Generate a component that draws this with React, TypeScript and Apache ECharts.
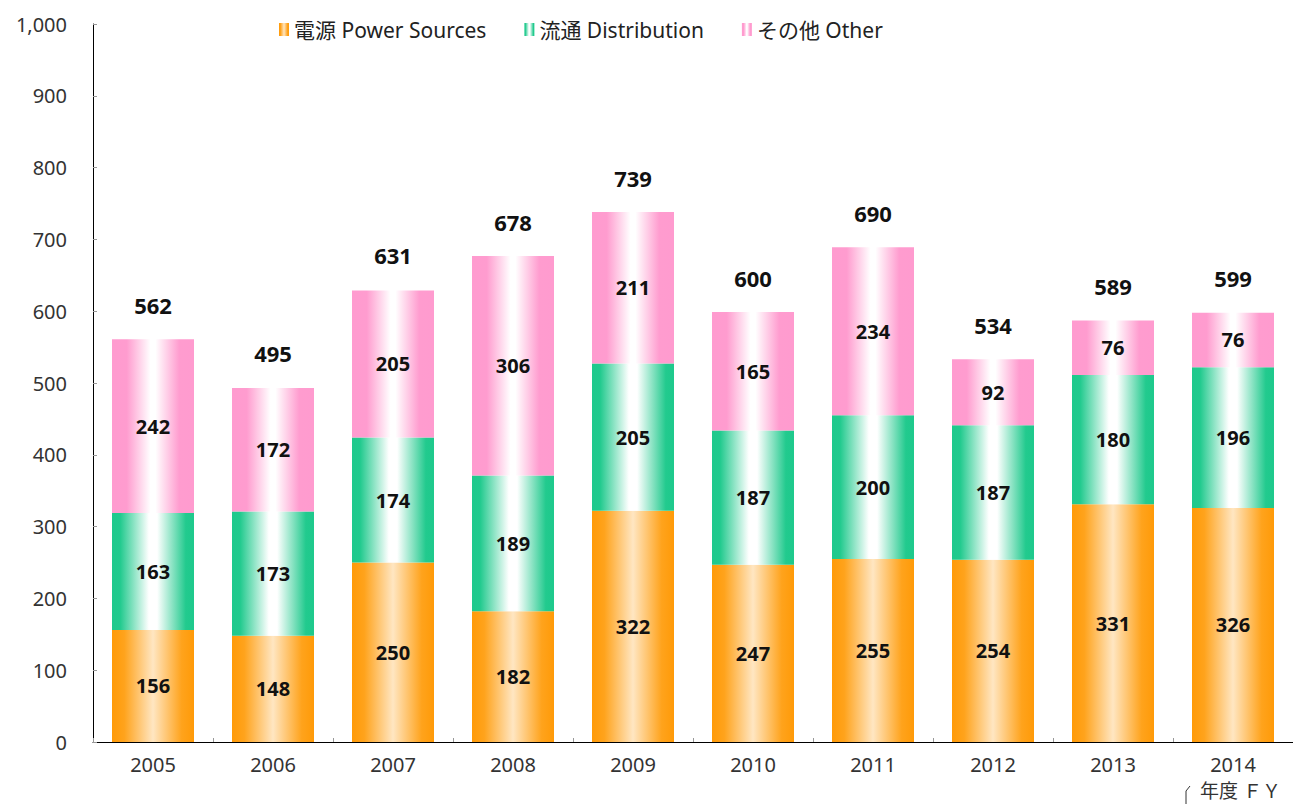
import React, { useEffect, useRef } from "react";
import * as echarts from "echarts";

const years = ["2005", "2006", "2007", "2008", "2009", "2010", "2011", "2012", "2013", "2014"];
const power = [156, 148, 250, 182, 322, 247, 255, 254, 331, 326];
const distribution = [163, 173, 174, 189, 205, 187, 200, 187, 180, 196];
const other = [242, 172, 205, 306, 211, 165, 234, 92, 76, 76];
const totals = [562, 495, 631, 678, 739, 600, 690, 534, 589, 599];

const FONT = "'Noto Sans', 'Noto Sans CJK JP', sans-serif";

function grad(stops: [number, string][]) {
  return new echarts.graphic.LinearGradient(
    0,
    0,
    1,
    0,
    stops.map(([offset, color]) => ({ offset, color }))
  );
}

export default function App() {
  const ref = useRef<HTMLDivElement>(null);
  useEffect(() => {
    if (!ref.current) return;
    const chart = echarts.init(ref.current, undefined, { renderer: "svg" });
    const labelStyle = {
      show: true,
      position: "inside" as const,
      color: "#111",
      fontSize: 20,
      fontWeight: "bold" as const,
      fontFamily: FONT,
    };
    chart.setOption({
      animation: false,
      backgroundColor: "#fff",
      grid: { left: 93, right: 0, top: 24, bottom: 62 },
      legend: {
        left: 274,
        top: 14,
        itemWidth: 10,
        itemHeight: 13,
        itemGap: 38,
        icon: "rect",
        textStyle: { fontSize: 21, color: "#222", fontFamily: FONT },
        data: ["電源 Power Sources", "流通 Distribution", "その他 Other"],
      },
      xAxis: {
        type: "category",
        data: years,
        axisLine: { lineStyle: { color: "#000", width: 1 } },
        axisTick: { show: true, inside: true, length: 4, lineStyle: { color: "#999" } },
        axisLabel: { fontSize: 20, color: "#333", margin: 12, fontFamily: FONT },
      },
      yAxis: {
        type: "value",
        min: 0,
        max: 1000,
        interval: 100,
        splitLine: { show: false },
        axisLine: { show: true, lineStyle: { color: "#000", width: 1 } },
        axisTick: { show: true, inside: true, length: 4, lineStyle: { color: "#999" } },
        axisLabel: {
          fontSize: 20,
          color: "#333",
          margin: 26,
          fontFamily: FONT,
          formatter: (v: number) => v.toLocaleString("en-US"),
        },
      },
      series: [
        {
          name: "電源 Power Sources",
          type: "bar",
          stack: "t",
          barWidth: 82,
          data: power,
          itemStyle: {
            color: grad([
              [0, "#ff9a08"],
              [0.15, "#ffa31c"],
              [0.5, "#ffe6c2"],
              [0.85, "#ffa31c"],
              [1, "#ff9a08"],
            ]),
          },
          label: labelStyle,
        },
        {
          name: "流通 Distribution",
          type: "bar",
          stack: "t",
          data: distribution,
          itemStyle: {
            color: grad([
              [0, "#1ec98c"],
              [0.1, "#22ca8e"],
              [0.45, "#ffffff"],
              [0.55, "#ffffff"],
              [0.9, "#22ca8e"],
              [1, "#1ec98c"],
            ]),
          },
          label: labelStyle,
        },
        {
          name: "その他 Other",
          type: "bar",
          stack: "t",
          data: other,
          itemStyle: {
            color: grad([
              [0, "#ff9bcf"],
              [0.18, "#ff9ccf"],
              [0.47, "#ffffff"],
              [0.53, "#ffffff"],
              [0.82, "#ff9ccf"],
              [1, "#ff9bcf"],
            ]),
          },
          label: labelStyle,
        },
        {
          name: "total",
          type: "line",
          data: totals,
          symbol: "circle",
          symbolSize: 1,
          itemStyle: { color: "rgba(0,0,0,0)" },
          lineStyle: { opacity: 0 },
          silent: true,
          label: {
            show: true,
            position: "top",
            distance: 22,
            color: "#111",
            fontSize: 22,
            fontWeight: "bold",
            fontFamily: FONT,
          },
        },
      ],
      graphic: [
        {
          type: "polyline",
          shape: { points: [[1186, 804], [1186, 791], [1190, 786]] },
          style: { stroke: "#333", lineWidth: 1, fill: "none" },
        },
        {
          type: "text",
          left: 1200,
          top: 781,
          style: { text: "年度 ＦＹ", fontSize: 19, fill: "#333", fontFamily: FONT },
        },
      ],
    });
    return () => chart.dispose();
  }, []);
  return <div ref={ref} style={{ width: 1293, height: 804, position: "absolute", left: 0, top: 0 }} />;
}
